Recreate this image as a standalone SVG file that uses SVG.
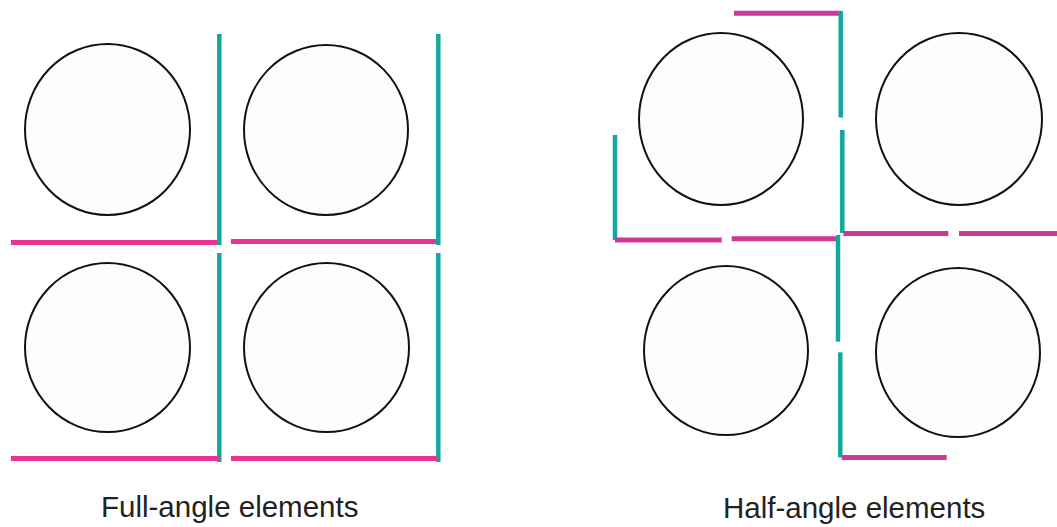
<svg xmlns="http://www.w3.org/2000/svg" width="1057" height="527" viewBox="0 0 1057 527">
<style>
.c{fill:#fdfdfb;stroke:#111;stroke-width:2}
.t{stroke:#14a89c;stroke-width:4.5;fill:none}
.p{stroke:#ea3393;stroke-width:5;fill:none}
.q{stroke:#cf379a;stroke-width:5;fill:none}
.lbl{font-family:"Liberation Sans",Arial,sans-serif;font-size:29.5px;fill:#222}
</style>
<rect width="1057" height="527" fill="#fff"/>
<g id="full-tl"><ellipse class="c" cx="107.5" cy="129.5" rx="82.5" ry="85.5"/></g>
<g id="full-tr"><ellipse class="c" cx="326" cy="130" rx="82" ry="85"/></g>
<g id="full-bl"><ellipse class="c" cx="107.5" cy="347.5" rx="82.5" ry="84.5"/></g>
<g id="full-br"><ellipse class="c" cx="326.5" cy="347.5" rx="82.5" ry="84.5"/></g>
<g id="half-tl"><ellipse class="c" cx="721" cy="119" rx="82" ry="86"/></g>
<g id="half-tr"><ellipse class="c" cx="959" cy="119" rx="83" ry="86"/></g>
<g id="half-bl"><ellipse class="c" cx="726" cy="350.5" rx="82" ry="84.5"/></g>
<g id="half-br"><ellipse class="c" cx="958" cy="352.5" rx="82" ry="84.5"/></g>
<g id="connectors">
<line class="p" x1="11" y1="242.5" x2="219" y2="242.5"/>
<line class="t" x1="219.3" y1="34" x2="219.3" y2="245"/>
<line class="p" x1="231" y1="241.5" x2="438" y2="241.5"/>
<line class="t" x1="438.3" y1="34" x2="438.3" y2="245"/>
<line class="t" x1="219.3" y1="253" x2="219.3" y2="462"/>
<line class="p" x1="11" y1="458.5" x2="219" y2="458.5"/>
<line class="t" x1="438.3" y1="253" x2="438.3" y2="462"/>
<line class="p" x1="231" y1="458.5" x2="438" y2="458.5"/>
<line class="q" x1="734" y1="13.3" x2="841" y2="13.3"/>
<line class="t" x1="840.7" y1="11" x2="840.7" y2="117.5"/>
<line class="t" x1="842.3" y1="130" x2="842.3" y2="233"/>
<line class="t" x1="615" y1="135" x2="615" y2="240"/>
<line class="q" x1="615" y1="240" x2="721.7" y2="240"/>
<line class="q" x1="731.7" y1="238.7" x2="837.3" y2="238.7"/>
<line class="q" x1="843.3" y1="233.5" x2="948.3" y2="233.5"/>
<line class="q" x1="959" y1="233.5" x2="1057" y2="233.5"/>
<line class="t" x1="838" y1="235" x2="838" y2="341.7"/>
<line class="t" x1="840.3" y1="352.3" x2="840.3" y2="457.5"/>
<line class="q" x1="841.7" y1="457.5" x2="946.7" y2="457.5"/>
</g>
<text class="lbl" x="101" y="517">Full-angle elements</text>
<text class="lbl" x="723" y="518">Half-angle elements</text>
</svg>
